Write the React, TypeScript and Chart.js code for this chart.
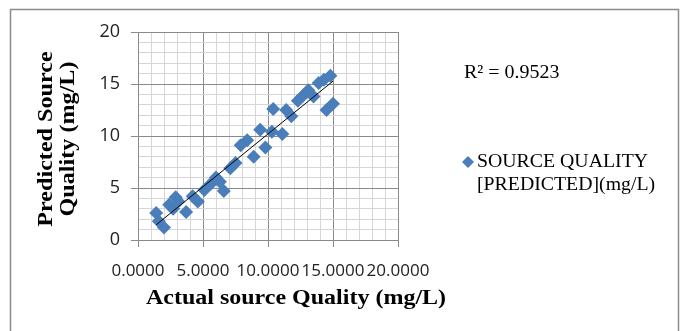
import React, { useEffect, useRef } from "react";
import { Chart, registerables } from "chart.js";

Chart.register(...registerables);

// Actual vs predicted source quality (mg/L)
const actualQuality = [
  1.4, 1.6, 2.0, 2.4, 2.7, 2.9, 3.1, 3.7, 4.2, 4.6, 5.1, 5.6, 6.0, 6.3, 6.6,
  7.1, 7.5, 7.9, 8.4, 8.9, 9.4, 9.8, 10.3, 10.4, 11.1, 11.4, 11.8, 12.3, 12.7,
  13.1, 13.5, 13.9, 14.3, 14.5, 14.8, 15.0,
];
const predictedQuality = [
  2.6, 1.8, 1.2, 3.4, 3.0, 4.1, 3.7, 2.7, 4.2, 3.7, 4.8, 5.4, 6.0, 5.6, 4.7,
  6.9, 7.4, 9.1, 9.6, 8.0, 10.6, 8.9, 10.4, 12.6, 10.2, 12.5, 11.9, 13.4, 13.9,
  14.4, 13.8, 15.1, 15.4, 12.5, 15.8, 13.1,
];
const xAxisRange = [0, 20];
const yAxisRange = [0, 20];
const majorStep = 5;
const seriesLabel = ["SOURCE QUALITY", "[PREDICTED](mg/L)"];
const rSquaredLabel = "R² = 0.9523";
const xTitle = "Actual source Quality (mg/L)";
const yTitle = ["Predicted Source", "Quality (mg/L)"];

const BLUE = "#4A7EBB";
const MAJOR = "#8a8a8a";
const MINOR = "#d6d6d6";

function linearFit(xs: number[], ys: number[]) {
  const n = xs.length;
  const mx = xs.reduce((a, b) => a + b, 0) / n;
  const my = ys.reduce((a, b) => a + b, 0) / n;
  let sxy = 0;
  let sxx = 0;
  for (let i = 0; i < n; i++) {
    sxy += (xs[i] - mx) * (ys[i] - my);
    sxx += (xs[i] - mx) * (xs[i] - mx);
  }
  const slope = sxy / sxx;
  return { slope, intercept: my - slope * mx };
}

function drawScaledText(
  ctx: CanvasRenderingContext2D,
  text: string,
  x: number,
  y: number,
  font: string,
  scaleX: number,
  align: CanvasTextAlign,
  rotate = 0
) {
  ctx.save();
  ctx.translate(x, y);
  if (rotate) ctx.rotate(rotate);
  ctx.scale(scaleX, 1);
  ctx.font = font;
  ctx.textAlign = align;
  ctx.textBaseline = "middle";
  ctx.fillStyle = "#000";
  ctx.fillText(text, 0, 0);
  ctx.restore();
}

const decorPlugin = {
  id: "decor",
  beforeDraw(chart: any) {
    const ctx = chart.ctx as CanvasRenderingContext2D;
    ctx.save();
    ctx.fillStyle = "#fff";
    ctx.fillRect(0, 0, chart.width, chart.height);
    ctx.strokeStyle = "#8c8c8c";
    ctx.lineWidth = 1.5;
    ctx.strokeRect(10.5, 9.5, 668, 400);
    ctx.restore();
  },
  afterDraw(chart: any) {
    const ctx = chart.ctx as CanvasRenderingContext2D;
    const area = chart.chartArea;
    // axis titles
    drawScaledText(ctx, xTitle, 296, 299, "bold 20px 'Liberation Serif'", 1.2, "center");
    const cy = (area.top + area.bottom) / 2 + 3;
    drawScaledText(ctx, yTitle[0], 47, cy, "bold 21px 'Liberation Serif'", 1.15, "center", -Math.PI / 2);
    drawScaledText(ctx, yTitle[1], 69, cy, "bold 21px 'Liberation Serif'", 1.15, "center", -Math.PI / 2);
    // R squared
    drawScaledText(ctx, rSquaredLabel, 464, 73, "19px 'Liberation Serif'", 1.05, "left");
    // legend
    ctx.save();
    ctx.fillStyle = BLUE;
    const lx = 468;
    const ly = 162;
    const r = 6;
    ctx.beginPath();
    ctx.moveTo(lx, ly - r);
    ctx.lineTo(lx + r, ly);
    ctx.lineTo(lx, ly + r);
    ctx.lineTo(lx - r, ly);
    ctx.closePath();
    ctx.fill();
    ctx.restore();
    drawScaledText(ctx, seriesLabel[0], 477, 162, "18px 'Liberation Serif'", 1.1, "left");
    drawScaledText(ctx, seriesLabel[1], 477, 185, "18px 'Liberation Serif'", 1.1, "left");
  },
};

export default function App() {
  const canvasRef = useRef<HTMLCanvasElement | null>(null);

  useEffect(() => {
    document.body.style.margin = "0";
    const canvas = canvasRef.current;
    if (!canvas) return;
    const fit = linearFit(actualQuality, predictedQuality);
    const xMin = Math.min(...actualQuality);
    const xMax = Math.max(...actualQuality);
    const points = actualQuality.map((x, i) => ({ x, y: predictedQuality[i] }));
    const trend = [
      { x: xMin, y: fit.intercept + fit.slope * xMin },
      { x: xMax, y: fit.intercept + fit.slope * xMax },
    ];

    const gridColor = (c: any) =>
      c.tick && c.tick.value % majorStep === 0 ? MAJOR : MINOR;
    const tickColor = (c: any) =>
      c.tick && c.tick.value % majorStep === 0 ? MAJOR : "rgba(0,0,0,0)";

    const chart = new Chart(canvas, {
      type: "scatter",
      data: {
        datasets: [
          {
            label: "Linear",
            data: trend,
            showLine: true,
            borderColor: "#000",
            borderWidth: 1,
            pointRadius: 0,
            order: 0,
          } as any,
          {
            label: seriesLabel.join(" "),
            data: points,
            pointStyle: "rectRot",
            pointRadius: 7,
            pointBackgroundColor: BLUE,
            pointBorderColor: BLUE,
            pointBorderWidth: 0,
            order: 1,
          } as any,
        ],
      },
      options: {
        animation: false,
        responsive: false,
        devicePixelRatio: 1,
        layout: { padding: { top: 32, right: 283, left: 0, bottom: 0 } },
        plugins: { legend: { display: false }, tooltip: { enabled: false } },
        scales: {
          x: {
            type: "linear",
            min: xAxisRange[0],
            max: xAxisRange[1],
            afterFit: (s: any) => {
              s.height = 91;
            },
            ticks: {
              stepSize: 1,
              autoSkip: false,
              maxRotation: 0,
              padding: 14,
              color: "#222",
              font: { family: "'Open Sans'", size: 17 },
              callback: (v: any) => (Number(v) % majorStep === 0 ? Number(v).toFixed(4) : ""),
            },
            grid: { color: gridColor, tickColor, tickLength: 7, lineWidth: 1 },
            border: { color: MAJOR, width: 1 },
          },
          y: {
            type: "linear",
            min: yAxisRange[0],
            max: yAxisRange[1],
            afterFit: (s: any) => {
              s.width = 138;
            },
            ticks: {
              stepSize: 1,
              autoSkip: false,
              padding: 11,
              color: "#222",
              font: { family: "'Open Sans'", size: 18 },
              callback: (v: any) => (Number(v) % majorStep === 0 ? String(v) : ""),
            },
            grid: { color: gridColor, tickColor, tickLength: 7, lineWidth: 1 },
            border: { color: MAJOR, width: 1 },
          },
        },
      },
      plugins: [decorPlugin],
    } as any);

    return () => chart.destroy();
  }, []);

  return (
    <canvas
      ref={canvasRef}
      width={681}
      height={331}
      style={{ display: "block", width: 681, height: 331 }}
    />
  );
}
